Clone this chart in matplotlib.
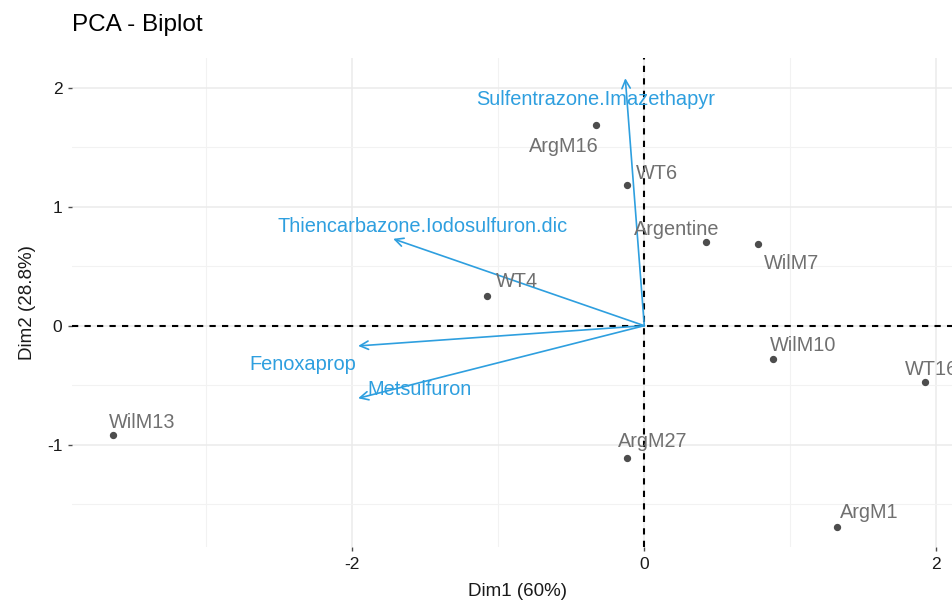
import numpy as np
import matplotlib
matplotlib.use("Agg")
from matplotlib import pyplot as plt

plt.rcParams['font.family'] = ['Liberation Sans', 'DejaVu Sans']
plt.rcParams['axes.unicode_minus'] = False

# individuals (Dim1, Dim2)
ind_names = ['ArgM16', 'WT6', 'Argentine', 'WilM7', 'WT4', 'WilM10', 'WT16', 'WilM13', 'ArgM27', 'ArgM1']
ind_x = [-0.33, -0.12, 0.42, 0.78, -1.08, 0.88, 1.92, -3.64, -0.12, 1.32]
ind_y = [1.69, 1.18, 0.70, 0.69, 0.25, -0.28, -0.47, -0.92, -1.11, -1.69]
# where the labels sit
ind_lab_x = [-0.55, 0.09, 0.22, 1.01, -0.87, 1.09, 1.97, -3.44, 0.06, 1.54]
ind_lab_y = [1.51, 1.28, 0.81, 0.52, 0.37, -0.17, -0.37, -0.81, -0.97, -1.57]

# variables (arrow tips)
var_names = ['Sulfentrazone.Imazethapyr', 'Thiencarbazone.Iodosulfuron.dic', 'Fenoxaprop', 'Metsulfuron']
var_x = [-0.13, -1.72, -1.96, -1.96]
var_y = [2.08, 0.73, -0.17, -0.61]
var_lab_x = [-0.33, -1.52, -2.34, -1.54]
var_lab_y = [1.90, 0.83, -0.33, -0.54]

blue = '#2E9FDF'

fig = plt.figure(figsize=(9.53, 6.09), dpi=100)
ax = fig.add_axes([72/953, 1-547/609, (964-72)/953, (547-58)/609])

ax.set_xlim(-3.92, 2.19)
ax.set_ylim(-1.86, 2.25)

# grid like theme_minimal
ax.set_xticks([-2, 0, 2])
ax.set_yticks([-1, 0, 1, 2])
ax.set_xticks([-3, -1, 1], minor=True)
ax.set_yticks([-1.5, -0.5, 0.5, 1.5], minor=True)
ax.grid(True, which='major', color='#ebebeb', linewidth=1.1)
ax.grid(True, which='minor', color='#f2f2f2', linewidth=0.8)
ax.set_axisbelow(True)
for s in ax.spines.values():
    s.set_visible(False)
ax.tick_params(which='major', length=3, width=1, color='#4d4d4d', labelsize=12.5, labelcolor='#1a1a1a', pad=4)
ax.tick_params(which='minor', length=0)

ax.axhline(0, color='black', linestyle=(0, (3, 3)), linewidth=1.5, zorder=2)
ax.axvline(0, color='black', linestyle=(0, (3, 3)), linewidth=1.5, zorder=2)

ax.scatter(ind_x, ind_y, s=18, color='#4d4d4d', zorder=3)
for i in range(len(ind_names)):
    ax.text(ind_lab_x[i], ind_lab_y[i], ind_names[i], color='#707070', fontsize=14.3,
            ha='center', va='center', zorder=4)

for i in range(len(var_names)):
    ax.annotate('', xy=(var_x[i], var_y[i]), xytext=(0, 0),
                arrowprops=dict(arrowstyle='->,head_length=0.6,head_width=0.3', color=blue, lw=1.2,
                                shrinkA=0, shrinkB=0), zorder=3)
    ax.text(var_lab_x[i], var_lab_y[i], var_names[i], color=blue, fontsize=14.4,
            ha='center', va='center', zorder=4)

ax.set_xlabel('Dim1 (60%)', fontsize=13.5, color='#1a1a1a', labelpad=8)
ax.set_ylabel('Dim2 (28.8%)', fontsize=13.5, color='#1a1a1a', labelpad=8)
fig.text(72/953, 1-25/609, 'PCA - Biplot', fontsize=17.5, ha='left', va='center', color='black')

fig.savefig('out.png', dpi=100)
